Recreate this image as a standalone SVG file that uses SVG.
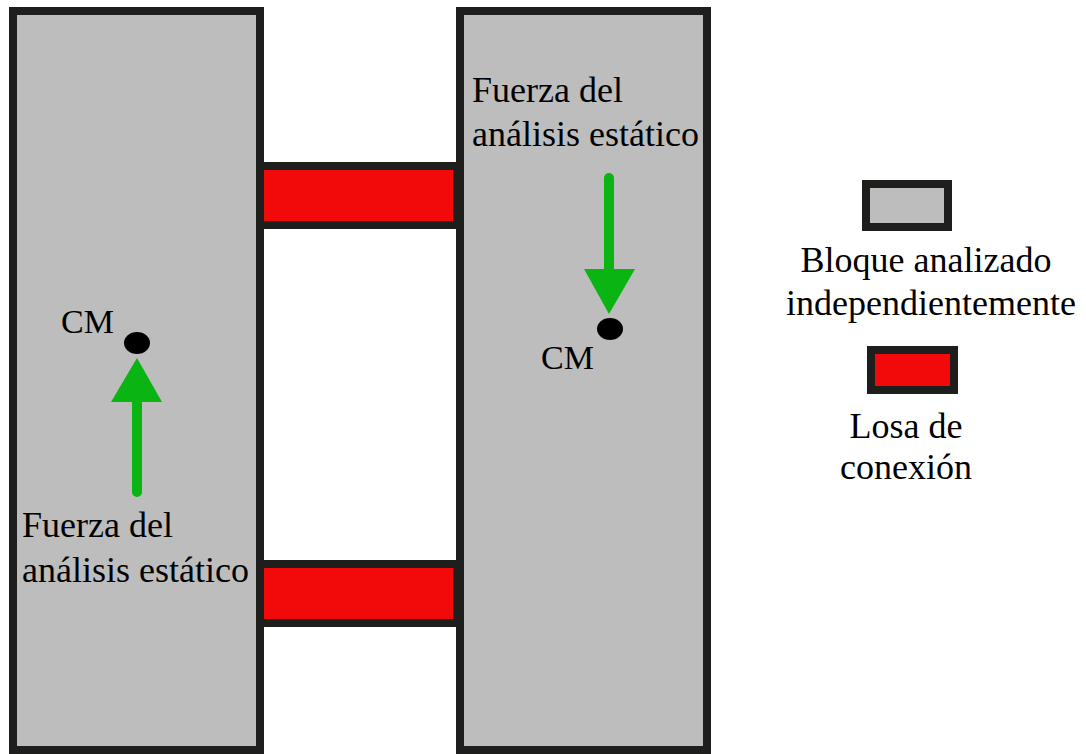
<svg xmlns="http://www.w3.org/2000/svg" width="1086" height="754" viewBox="0 0 1086 754">
<style>
.block{fill:#bdbdbd;stroke:#1e1e1c;stroke-width:8}
.slab{fill:#f20a0a;stroke:#1e1e1c;stroke-width:8}
.shaft{stroke:#0ab412;stroke-width:10;stroke-linecap:round;fill:none}
.head{fill:#0ab412}
.cm{fill:#000}
.mid{text-anchor:middle}
</style>
<rect width="1086" height="754" fill="#fff"/>
<g id="block-left"><rect class="block" x="13" y="11" width="247" height="739"/></g>
<g id="block-right"><rect class="block" x="460" y="11" width="247" height="739"/></g>
<g id="slab-top"><rect class="slab" x="260" y="166" width="197" height="59"/></g>
<g id="slab-bottom"><rect class="slab" x="260" y="564" width="197" height="59"/></g>
<g id="connectors">
<line class="shaft" x1="609" y1="178" x2="609" y2="272"/>
<polygon class="head" points="584,269 635,269 609,314"/>
<line class="shaft" x1="137" y1="492" x2="137" y2="400"/>
<polygon class="head" points="111,402 162,402 137,358"/>
</g>
<g font-family="Liberation Serif" font-size="36" fill="#000">
<g id="cm-right"><ellipse class="cm" cx="610" cy="329" rx="13" ry="11"/><text x="541" y="369" font-size="34">CM</text></g>
<g id="cm-left"><ellipse class="cm" cx="137" cy="343" rx="13" ry="11"/><text x="61" y="333" font-size="34">CM</text></g>
<g id="label-right"><text x="472" y="102">Fuerza del</text><text x="472" y="146">análisis estático</text></g>
<g id="label-left"><text x="22" y="537">Fuerza del</text><text x="22" y="582">análisis estático</text></g>
<g id="legend-block"><rect class="block" x="866" y="184" width="82" height="43"/><text class="mid" x="926" y="272">Bloque analizado</text><text class="mid" x="931" y="315">independientemente</text></g>
<g id="legend-slab"><rect class="slab" x="871" y="350" width="83" height="40"/><text class="mid" x="906" y="438">Losa de</text><text class="mid" x="906" y="479">conexión</text></g>
</g>
</svg>
